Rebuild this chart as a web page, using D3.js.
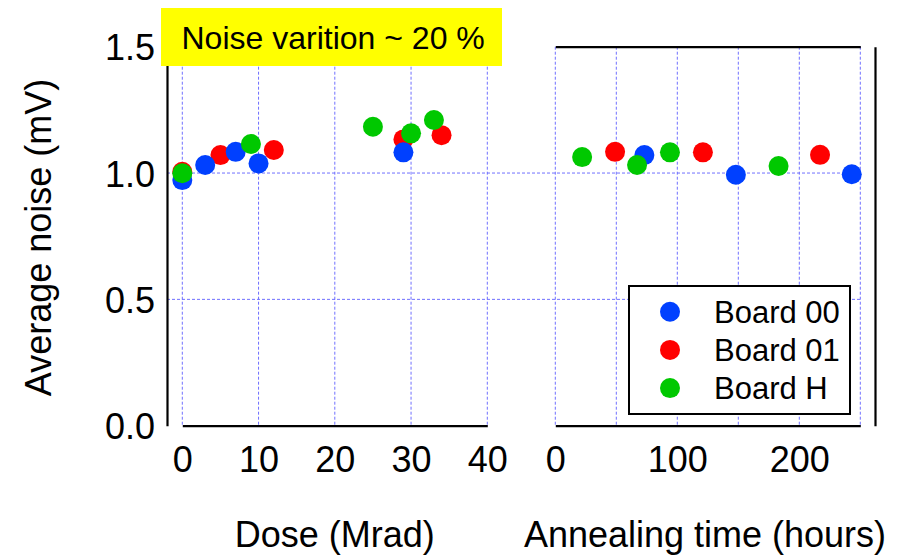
<!DOCTYPE html>
<html>
<head>
<meta charset="utf-8">
<script src="https://cdn.jsdelivr.net/npm/d3@7"></script>
<style>
  body { margin: 0; background: #fff; }
  svg text { font-family: "Liberation Sans", Arial, sans-serif; fill: #000; }
</style>
</head>
<body>
<div id="chart"></div>
<script>
// Data
// ================================
var boards = ["Board 00", "Board 01", "Board H"];
var boardColors = ["#0040ff", "#ff0000", "#00c800"];

// irradiation panel: dose (Mrad) and average noise (mV)
var doseB00 = [0, 3, 7, 10, 29];
var noiseDoseB00 = [0.972, 1.032, 1.084, 1.038, 1.082];
var doseB01 = [0, 5, 12, 29, 34];
var noiseDoseB01 = [1.005, 1.071, 1.091, 1.133, 1.150];
var doseBH = [0, 9, 25, 30, 33];
var noiseDoseBH = [0.999, 1.115, 1.183, 1.157, 1.210];

// annealing panel: time (hours) and average noise (mV)
var annealB00 = [73, 148, 243];
var noiseAnnealB00 = [1.071, 0.993, 0.995];
var annealB01 = [49, 121, 217];
var noiseAnnealB01 = [1.084, 1.082, 1.072];
var annealBH = [22, 67, 94, 183];
var noiseAnnealBH = [1.063, 1.032, 1.082, 1.028];

var doseTicks = [0, 10, 20, 30, 40];
var annealGrid = [0, 50, 100, 150, 200, 250];
var annealTicks = [0, 100, 200];
var noiseTicks = [0.0, 0.5, 1.0, 1.5];
var noiseGrid = [0.5, 1.0];

// Set up the chart
// ================================
var svgWidth = 898;
var svgHeight = 556;

var svg = d3
  .select("#chart")
  .append("svg")
  .attr("width", svgWidth)
  .attr("height", svgHeight);

var xDose = d3.scaleLinear().domain([0, 40]).range([182.3, 487.3]);
var xAnneal = d3.scaleLinear().domain([0, 250]).range([555.3, 860.3]);
var yScale = d3.scaleLinear().domain([0, 1.5]).range([425.7, 46.7]);

var gridColor = "#7070ff";

// grid lines
svg
  .append("g")
  .selectAll("line")
  .data(doseTicks)
  .enter()
  .append("line")
  .attr("x1", (d) => xDose(d))
  .attr("x2", (d) => xDose(d))
  .attr("y1", yScale(1.5))
  .attr("y2", yScale(0))
  .attr("stroke", gridColor)
  .attr("stroke-width", 1)
  .attr("stroke-dasharray", "3,2");

svg
  .append("g")
  .selectAll("line")
  .data(annealGrid)
  .enter()
  .append("line")
  .attr("x1", (d) => xAnneal(d))
  .attr("x2", (d) => xAnneal(d))
  .attr("y1", yScale(1.5))
  .attr("y2", yScale(0))
  .attr("stroke", gridColor)
  .attr("stroke-width", 1)
  .attr("stroke-dasharray", "3,2");

svg
  .append("g")
  .selectAll("line")
  .data(noiseGrid)
  .enter()
  .append("line")
  .attr("x1", 167)
  .attr("x2", xAnneal(250))
  .attr("y1", (d) => yScale(d))
  .attr("y2", (d) => yScale(d))
  .attr("stroke", gridColor)
  .attr("stroke-width", 1)
  .attr("stroke-dasharray", "3,2");

// axes
function styleAxis(g) {
  g.select(".domain").attr("stroke", "#000").attr("stroke-width", 2.2);
  g.selectAll("text").style("font-size", "36px");
}

var doseAxis = svg
  .append("g")
  .attr("transform", `translate(0, ${yScale(0)})`)
  .call(
    d3.axisBottom(xDose).tickValues(doseTicks).tickSize(0).tickSizeOuter(0).tickPadding(21)
  )
  .call(styleAxis);

var doseTopAxis = svg
  .append("g")
  .attr("transform", `translate(0, ${yScale(1.5)})`)
  .call(d3.axisTop(xDose).tickValues([]).tickSizeOuter(0))
  .call(styleAxis);

var annealAxis = svg
  .append("g")
  .attr("transform", `translate(0, ${yScale(0)})`)
  .call(
    d3
      .axisBottom(xAnneal)
      .tickValues(annealTicks)
      .tickSize(0)
      .tickSizeOuter(0)
      .tickPadding(21)
  )
  .call(styleAxis);

var annealTopAxis = svg
  .append("g")
  .attr("transform", `translate(0, ${yScale(1.5)})`)
  .call(d3.axisTop(xAnneal).tickValues([]).tickSizeOuter(0))
  .call(styleAxis);

var leftAxis = svg
  .append("g")
  .attr("transform", "translate(167, 0)")
  .call(
    d3
      .axisLeft(yScale)
      .tickValues(noiseTicks)
      .tickFormat(d3.format(".1f"))
      .tickSize(0)
      .tickSizeOuter(0)
      .tickPadding(12)
  )
  .call(styleAxis);
leftAxis.selectAll("text").attr("dy", "0.36em");

var rightAxis = svg
  .append("g")
  .attr("transform", "translate(875, 0)")
  .call(d3.axisRight(yScale).tickValues([]).tickSizeOuter(0))
  .call(styleAxis);

// points (red first, then blue, then green on top)
var doseSeries = [
  { x: doseB01, y: noiseDoseB01, color: boardColors[1] },
  { x: doseB00, y: noiseDoseB00, color: boardColors[0] },
  { x: doseBH, y: noiseDoseBH, color: boardColors[2] },
];
var annealSeries = [
  { x: annealB01, y: noiseAnnealB01, color: boardColors[1] },
  { x: annealB00, y: noiseAnnealB00, color: boardColors[0] },
  { x: annealBH, y: noiseAnnealBH, color: boardColors[2] },
];

function drawPoints(series, xScale) {
  series.forEach(function (s) {
    svg
      .append("g")
      .selectAll("circle")
      .data(s.x.map((d, i) => ({ x: d, y: s.y[i] })))
      .enter()
      .append("circle")
      .attr("cx", (d) => xScale(d.x))
      .attr("cy", (d) => yScale(d.y))
      .attr("r", 10)
      .attr("fill", s.color);
  });
}
drawPoints(doseSeries, xDose);
drawPoints(annealSeries, xAnneal);

// yellow note box
svg
  .append("rect")
  .attr("x", 161)
  .attr("y", 8)
  .attr("width", 341)
  .attr("height", 58)
  .attr("fill", "#ffff00");

svg
  .append("text")
  .attr("x", 181.5)
  .attr("y", 48.5)
  .style("font-size", "32px")
  .text("Noise varition ~ 20 %");

// legend
var legend = svg.append("g").attr("transform", "translate(629, 286)");

legend
  .append("rect")
  .attr("width", 221)
  .attr("height", 128)
  .attr("fill", "#fff")
  .attr("stroke", "#000")
  .attr("stroke-width", 2);

var legendItems = legend
  .selectAll(".item")
  .data(boards)
  .enter()
  .append("g")
  .attr("class", "item")
  .attr("transform", (d, i) => `translate(0, ${25.7 + i * 38.2})`);

legendItems
  .append("circle")
  .attr("cx", 41)
  .attr("cy", 0)
  .attr("r", 10)
  .attr("fill", (d, i) => boardColors[i]);

legendItems
  .append("text")
  .attr("x", 85)
  .attr("y", 11)
  .style("font-size", "31px")
  .text((d) => d);

// axis titles
svg
  .append("text")
  .attr("x", 334.7)
  .attr("y", 547)
  .attr("text-anchor", "middle")
  .style("font-size", "36px")
  .text("Dose (Mrad)");

svg
  .append("text")
  .attr("x", 705)
  .attr("y", 547)
  .attr("text-anchor", "middle")
  .style("font-size", "36px")
  .text("Annealing time (hours)");

svg
  .append("text")
  .attr("transform", "translate(51, 237.5) rotate(-90)")
  .attr("text-anchor", "middle")
  .style("font-size", "36px")
  .text("Average noise (mV)");
</script>
</body>
</html>
